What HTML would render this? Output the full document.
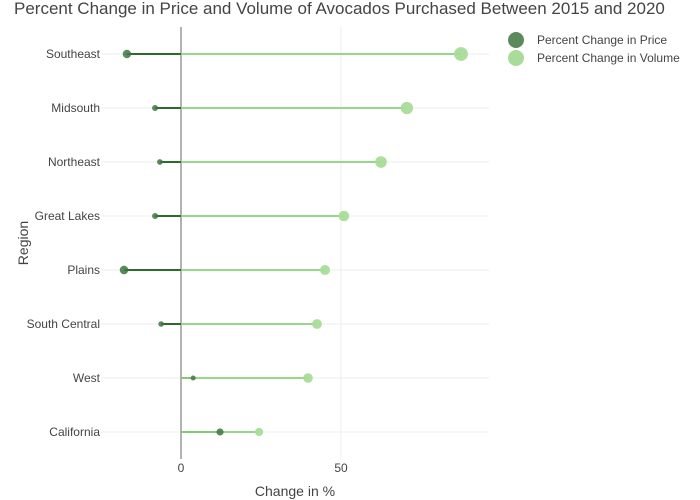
<!DOCTYPE html>
<html><head><meta charset="utf-8"><style>
body{margin:0;background:#fff;}
svg{display:block;font-family:"Liberation Sans",sans-serif;}
</style></head><body>
<svg id="chart" width="700" height="500">
<text x="14" y="14" font-size="17" fill="#444">Percent Change in Price and Volume of Avocados Purchased Between 2015 and 2020</text>
<g id="grid"></g><g id="marks"></g><g id="labels"></g>
<text x="295" y="496" font-size="14" fill="#444" text-anchor="middle">Change in %</text>
<text transform="translate(28,243) rotate(-90)" font-size="14" fill="#444" text-anchor="middle">Region</text>
<g>
<circle cx="516" cy="40" r="8" fill="#4a7d4a" opacity="0.9"/>
<text x="537" y="44" font-size="12" fill="#444">Percent Change in Price</text>
<circle cx="516" cy="58" r="8" fill="#a8dc98"/>
<text x="537" y="62" font-size="12" fill="#444">Percent Change in Volume</text>
</g>
</svg>
<script>
const regions=["Southeast","Midsouth","Northeast","Great Lakes","Plains","South Central","West","California"];
const priceChange=[-16.9,-8.1,-6.6,-8.1,-17.8,-6.2,3.8,12.2];
const volumeChange=[87.5,70.6,62.5,50.9,45,42.5,39.7,24.4];
const xTicks=[0,50];
const NS="http://www.w3.org/2000/svg";
const X=v=>181+v*3.2;
const Y=i=>54+i*54;
function mk(tag,attrs,parent){const e=document.createElementNS(NS,tag);for(const k in attrs)e.setAttribute(k,attrs[k]);document.getElementById(parent).appendChild(e);return e;}
regions.forEach((r,i)=>{
  const g=mk("line",{x1:101,x2:489,y1:Y(i),y2:Y(i),stroke:"#eee","stroke-width":1},"grid");
  
  
  const t=mk("text",{x:100,y:Y(i)+4,"font-size":12,fill:"#444","text-anchor":"end"},"labels");
  t.textContent=r;
  
  
});
xTicks.forEach(v=>{
  if(v!==0){const g=mk("line",{x1:X(v),x2:X(v),y1:27,y2:459,stroke:"#eee"},"grid");
  
  }
  const t=mk("text",{x:X(v),y:472,"font-size":12,fill:"#444","text-anchor":"middle"},"labels");
  t.textContent=v;
  
  
});
const z=mk("line",{x1:X(0),x2:X(0),y1:27,y2:459,stroke:"#666","stroke-width":1},"grid");


regions.forEach((r,i)=>{
  const l=mk("line",{x1:X(0),x2:X(priceChange[i]),y1:Y(i),y2:Y(i),stroke:"#2d6a2d","stroke-width":2},"marks");
  
  
});
regions.forEach((r,i)=>{
  const l=mk("line",{x1:X(0),x2:X(volumeChange[i]),y1:Y(i),y2:Y(i),stroke:"#8fd47f","stroke-width":2,opacity:0.9},"marks");
  
  
});
regions.forEach((r,i)=>{
  const c=mk("circle",{cx:X(priceChange[i]),cy:Y(i),r:2+Math.abs(priceChange[i])*0.13,fill:"#3f763f",opacity:0.85},"marks");
  
  
  const d=mk("circle",{cx:X(volumeChange[i]),cy:Y(i),r:3+Math.abs(volumeChange[i])*0.045,fill:"#a8dc98",opacity:0.95},"marks");
  
  
});
</script>
</body></html>
